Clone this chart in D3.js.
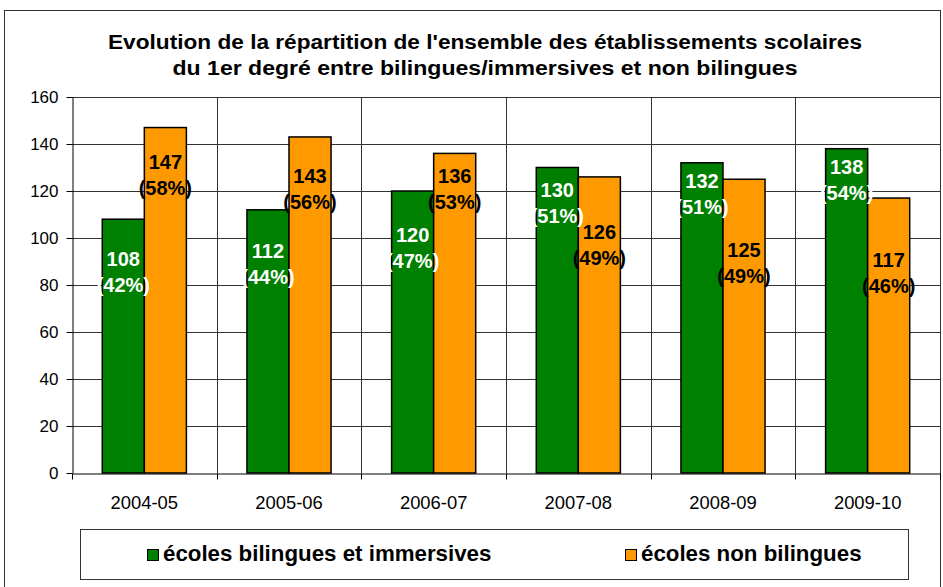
<!DOCTYPE html>
<html>
<head>
<meta charset="utf-8">
<script src="https://cdn.jsdelivr.net/npm/d3@7"></script>
<style>
  body { margin: 0; background: #fff; }
  svg text { font-family: "Liberation Sans", Arial, sans-serif; }
</style>
</head>
<body>
<div id="chart"></div>
<script>
const width = 943;
const height = 587;
const margin = { top: 97, right: 3, bottom: 114, left: 72 };

// data
const years = ["2004-05", "2005-06", "2006-07", "2007-08", "2008-09", "2009-10"];
const seriesNames = ["écoles bilingues et immersives", "écoles non bilingues"];
const bilingues = [108, 112, 120, 130, 132, 138];
const nonBilingues = [147, 143, 136, 126, 125, 117];
const pctBilingues = [42, 44, 47, 51, 51, 54];
const pctNonBilingues = [58, 56, 53, 49, 49, 46];
// where the (hand placed) labels sit, in axis units
const labelPosBilingues = [88, 91.5, 98.3, 117.4, 121.3, 127.2];
const labelPosNonBilingues = [129.4, 123.4, 123.4, 99.6, 91.9, 87.7];
const yTicks = [0, 20, 40, 60, 80, 100, 120, 140, 160];
const titleLines = [
    "Evolution de la répartition de l'ensemble des établissements scolaires",
    "du 1er degré entre bilingues/immersives et non bilingues"
];
const colors = ["#008000", "#FF9900"];
const labelColors = ["#fff", "#000"];

const rows = years.map((y, i) => ({
    year: y,
    values: [
        { key: 0, value: bilingues[i], pct: pctBilingues[i], pos: labelPosBilingues[i] },
        { key: 1, value: nonBilingues[i], pct: pctNonBilingues[i], pos: labelPosNonBilingues[i] }
    ]
}));

const svg = d3.select("#chart")
    .append("svg")
    .attr("width", width)
    .attr("height", height);

// outer chart frame
svg.append("rect")
    .attr("x", 4.5).attr("y", 10.5)
    .attr("width", 936).attr("height", 600)
    .attr("fill", "#fff")
    .attr("stroke", "#333");

// title: the original is a little stretched sideways
const titleWidths = [754, 625];
svg.selectAll(".title")
    .data(titleLines)
    .enter().append("text")
    .attr("class", "title")
    .attr("x", (d, i) => 485 - titleWidths[i] / 2)
    .attr("y", (d, i) => 48.5 + i * 26.5)
    .attr("textLength", (d, i) => titleWidths[i])
    .attr("lengthAdjust", "spacingAndGlyphs")
    .style("font-size", "20px").style("font-weight", "bold")
    .text(d => d);

const x0 = d3.scaleBand().domain(years)
    .range([margin.left, width - margin.right]).padding(0);
const x1 = d3.scaleBand().domain([0, 1])
    .range([0, x0.bandwidth()]).paddingInner(0).paddingOuter(0.72);
const y = d3.scaleLinear().domain([0, 160])
    .range([height - margin.bottom, margin.top]);
const y0 = y(0);

// horizontal grid
svg.append("g")
    .selectAll("line")
    .data(yTicks.slice(1))
    .enter().append("line")
    .attr("x1", margin.left).attr("x2", width - margin.right)
    .attr("y1", d => Math.round(y(d)) + 0.5).attr("y2", d => Math.round(y(d)) + 0.5)
    .attr("stroke", "#333");

// vertical grid at category boundaries
const bounds = years.slice(1).map(d => x0(d)).concat([x0(years[years.length - 1]) + x0.bandwidth()]);
svg.append("g")
    .selectAll("line")
    .data(bounds)
    .enter().append("line")
    .attr("x1", d => Math.round(d) + 0.5).attr("x2", d => Math.round(d) + 0.5)
    .attr("y1", margin.top).attr("y2", y0)
    .attr("stroke", "#333");

// bars
const groups = svg.append("g")
    .selectAll("g")
    .data(rows)
    .enter().append("g")
    .attr("transform", d => `translate(${x0(d.year)},0)`);

groups.selectAll("rect")
    .data(d => d.values)
    .enter().append("rect")
    .attr("x", d => x1(d.key))
    .attr("y", d => y(d.value))
    .attr("width", x1.bandwidth())
    .attr("height", d => y0 - y(d.value))
    .attr("fill", d => colors[d.key])
    .attr("stroke", "#000")
    .attr("stroke-width", 1.5);

// data labels
const labels = groups.selectAll("text")
    .data(d => d.values)
    .enter().append("text")
    .attr("text-anchor", "middle")
    .attr("fill", d => labelColors[d.key])
    .style("font-size", "20px").style("font-weight", "bold");
labels.append("tspan")
    .attr("x", d => x1(d.key) + x1.bandwidth() / 2)
    .attr("y", d => y(d.pos))
    .text(d => d.value);
labels.append("tspan")
    .attr("x", d => x1(d.key) + x1.bandwidth() / 2)
    .attr("y", d => y(d.pos) + 26)
    .text(d => `(${d.pct}%)`);

// y axis
const yAxis = svg.append("g")
    .attr("transform", `translate(${margin.left + 0.5},0)`)
    .call(d3.axisLeft(y).tickValues(yTicks).tickSize(6).tickSizeOuter(0).tickPadding(8));
yAxis.select(".domain").attr("stroke", "#000");
yAxis.selectAll(".tick line").attr("stroke", "#000");
yAxis.selectAll(".tick text")
    .attr("fill", "#000")
    .style("font-size", "17px")
    .style("font-family", "'Liberation Sans', Arial, sans-serif");

// x axis
const xAxis = svg.append("g")
    .attr("transform", `translate(0,${y0 + 0.5})`)
    .call(d3.axisBottom(x0).tickSize(0).tickPadding(22).tickSizeOuter(0));
xAxis.select(".domain").attr("stroke", "#000");
xAxis.selectAll(".tick text")
    .attr("fill", "#000")
    .style("font-size", "18.4px")
    .style("font-family", "'Liberation Sans', Arial, sans-serif");
xAxis.selectAll(".bound")
    .data([margin.left].concat(bounds))
    .enter().append("line")
    .attr("class", "bound")
    .attr("x1", d => Math.round(d) + 0.5).attr("x2", d => Math.round(d) + 0.5)
    .attr("y1", 0).attr("y2", 6)
    .attr("stroke", "#000");

// legend
const legend = svg.append("g");
legend.append("rect")
    .attr("x", 80.5).attr("y", 529.5)
    .attr("width", 828).attr("height", 50)
    .attr("fill", "#fff")
    .attr("stroke", "#333");

const legendX = [147, 625];
const items = legend.selectAll(".legend-item")
    .data(seriesNames)
    .enter().append("g")
    .attr("class", "legend-item")
    .attr("transform", (d, i) => `translate(${legendX[i]},549)`);
items.append("rect")
    .attr("x", 0.5).attr("y", 0.5)
    .attr("width", 11).attr("height", 11)
    .attr("fill", (d, i) => colors[i])
    .attr("stroke", "#000");
items.append("text")
    .attr("x", 16).attr("y", 12)
    .style("font-size", "22.3px").style("font-weight", "bold")
    .text(d => d);
</script>
</body>
</html>
